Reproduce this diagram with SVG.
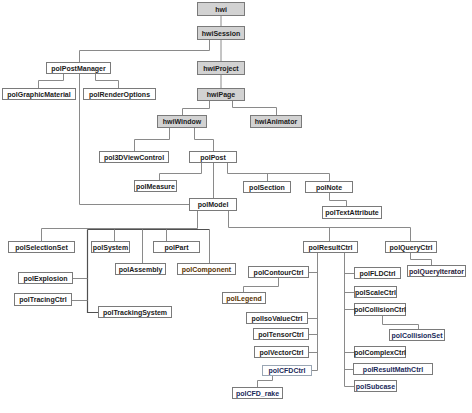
<svg xmlns="http://www.w3.org/2000/svg" width="472" height="413" viewBox="0 0 472 413">
<style>
.b{fill:#fff;stroke:#7a7a7a;stroke-width:1}
.g{fill:#d2d2d2;stroke:#7a7a7a;stroke-width:1}
text{font-family:"Liberation Sans",Arial,sans-serif;font-size:7px;font-weight:bold;fill:#1a1a1a;text-anchor:middle}
.c{fill:none;stroke:#8a8a8a;stroke-width:1}
.d{fill:none;stroke:#505050;stroke-width:1.2}
.br{fill:#5a3300}
.nv{fill:#1a2a5a}
</style>
<rect width="472" height="413" fill="#fff"/>
<g id="connectors">
<polyline class="c" points="221,15.5 221,26.5"/>
<polyline class="c" points="221,39.5 221,61.5"/>
<polyline class="c" points="209.5,39.5 209.5,50.5 79.5,50.5 79.5,62.5"/>
<polyline class="c" points="63.5,74 63.5,80.5 38.5,80.5 38.5,88"/>
<polyline class="c" points="95.5,74 95.5,80.5 118.5,80.5 118.5,88"/>
<polyline class="c" points="79.5,74 79.5,204.5 189,204.5"/>
<polyline class="c" points="221,74 221,88"/>
<polyline class="c" points="209.5,101 209.5,108.5 182.5,108.5 182.5,115"/>
<polyline class="c" points="232.5,101 232.5,107.5 276.5,107.5 276.5,115"/>
<polyline class="c" points="169.5,128 169.5,139.5 134.5,139.5 134.5,151"/>
<polyline class="c" points="194.5,128 194.5,139.5 213.5,139.5 213.5,151"/>
<polyline class="c" points="201.5,163 201.5,173.5 159.5,173.5 159.5,180"/>
<polyline class="c" points="213.5,163 213.5,198"/>
<polyline class="c" points="227.5,163 227.5,173.5 329.5,173.5 329.5,181"/>
<polyline class="c" points="267.5,173.5 267.5,181"/>
<polyline class="c" points="329.5,193 329.5,200.5 346.5,200.5 346.5,206"/>
<polyline class="c" points="197.5,211 197.5,228.5 41.5,228.5 41.5,241"/>
<polyline class="d" points="87.5,229.5 209.5,229.5"/>
<polyline class="d" points="87.5,229.5 87.5,312.5 98,312.5"/>
<polyline class="c" points="73,278.5 87.5,278.5"/>
<polyline class="c" points="72,300.5 87.5,300.5"/>
<polyline class="c" points="114.5,229.5 114.5,241"/>
<polyline class="c" points="142.5,229.5 142.5,263"/>
<polyline class="c" points="166.5,229.5 166.5,241"/>
<polyline class="c" points="209.5,229.5 209.5,263"/>
<polyline class="c" points="228.5,211 228.5,227.5 410.5,227.5 410.5,241"/>
<polyline class="c" points="329.5,227.5 329.5,241"/>
<polyline class="c" points="410.5,253 410.5,259.5 431.5,259.5 431.5,265"/>
<polyline class="c" points="317.5,253 317.5,370.5 312,370.5"/>
<polyline class="c" points="309,272.5 317.5,272.5"/>
<polyline class="c" points="308,318.5 317.5,318.5"/>
<polyline class="c" points="309,334.5 317.5,334.5"/>
<polyline class="c" points="309,352.5 317.5,352.5"/>
<polyline class="c" points="278.5,278 278.5,286.5 243.5,286.5 243.5,292"/>
<polyline class="c" points="272.5,376 272.5,380.5 257.5,380.5 257.5,387"/>
<polyline class="c" points="344.5,253 344.5,386.5 354,386.5"/>
<polyline class="c" points="344.5,273.5 354,273.5"/>
<polyline class="c" points="344.5,292.5 354,292.5"/>
<polyline class="c" points="344.5,309.5 354,309.5"/>
<polyline class="c" points="344.5,352.5 354,352.5"/>
<polyline class="c" points="344.5,369.5 353,369.5"/>
<polyline class="c" points="382.5,316 382.5,324.5 418.5,324.5 418.5,329"/>
</g>
<g id="hwi"><rect class="g" x="197.5" y="2.5" width="47" height="13"/><text x="221" y="11.5">hwi</text></g>
<g id="hwiSession"><rect class="g" x="197.5" y="26.5" width="47" height="13"/><text x="221" y="35.5">hwiSession</text></g>
<g id="hwiProject"><rect class="g" x="197.5" y="61.5" width="47" height="13"/><text x="221" y="70.5">hwiProject</text></g>
<g id="hwiPage"><rect class="g" x="197.5" y="88.5" width="47" height="12"/><text x="221" y="97">hwiPage</text></g>
<g id="hwiWindow"><rect class="g" x="157.5" y="115.5" width="49" height="12"/><text x="182" y="124">hwiWindow</text></g>
<g id="hwiAnimator"><rect class="g" x="250.5" y="115.5" width="51" height="12"/><text x="276" y="124">hwiAnimator</text></g>
<g id="polPostManager"><rect class="b" x="46.5" y="62.5" width="64" height="11"/><text x="78.5" y="70.5">polPostManager</text></g>
<g id="polGraphicMaterial"><rect class="b" x="2.5" y="88.5" width="73" height="11"/><text x="39" y="96.5">polGraphicMaterial</text></g>
<g id="polRenderOptions"><rect class="b" x="83.5" y="88.5" width="72" height="11"/><text x="119.5" y="96.5">polRenderOptions</text></g>
<g id="pol3DViewControl"><rect class="b" x="99.5" y="151.5" width="69" height="11"/><text x="134" y="159.5">pol3DViewControl</text></g>
<g id="polPost"><rect class="b" x="189.5" y="151.5" width="47" height="11"/><text x="213" y="159.5">polPost</text></g>
<g id="polMeasure"><rect class="b" x="134.5" y="180.5" width="42" height="11"/><text x="155.5" y="188.5">polMeasure</text></g>
<g id="polSection"><rect class="b" x="243.5" y="181.5" width="47" height="11"/><text x="267" y="189.5">polSection</text></g>
<g id="polNote"><rect class="b" x="305.5" y="181.5" width="47" height="11"/><text x="329" y="189.5">polNote</text></g>
<g id="polTextAttribute"><rect class="b" x="322.5" y="206.5" width="59" height="12"/><text x="352" y="215">polTextAttribute</text></g>
<g id="polModel"><rect class="b" x="189.5" y="198.5" width="47" height="12"/><text x="213" y="207">polModel</text></g>
<g id="polSelectionSet"><rect class="b" x="8.5" y="241.5" width="66" height="11"/><text x="41.5" y="249.5">polSelectionSet</text></g>
<g id="polSystem"><rect class="b" x="91.5" y="241.5" width="38" height="11"/><text x="110.5" y="249.5">polSystem</text></g>
<g id="polPart"><rect class="b" x="153.5" y="241.5" width="46" height="11"/><text x="176.5" y="249.5">polPart</text></g>
<g id="polAssembly"><rect class="b" x="115.5" y="263.5" width="50" height="11"/><text x="140.5" y="271.5">polAssembly</text></g>
<g id="polComponent"><rect class="b" x="177.5" y="263.5" width="58" height="11"/><text class="br" x="206.5" y="271.5">polComponent</text></g>
<g id="polExplosion"><rect class="b" x="18.5" y="272.5" width="54" height="11"/><text x="45.5" y="280.5">polExplosion</text></g>
<g id="polTracingCtrl"><rect class="b" x="14.5" y="293.5" width="57" height="12"/><text x="43" y="302">polTracingCtrl</text></g>
<g id="polTrackingSystem"><rect class="b" x="98.5" y="306.5" width="73" height="11"/><text x="135" y="314.5">polTrackingSystem</text></g>
<g id="polResultCtrl"><rect class="b" x="303.5" y="241.5" width="54" height="11"/><text x="330.5" y="249.5">polResultCtrl</text></g>
<g id="polQueryCtrl"><rect class="b" x="385.5" y="241.5" width="51" height="11"/><text x="411" y="249.5">polQueryCtrl</text></g>
<g id="polQueryIterator"><rect class="b" x="407.5" y="265.5" width="58" height="11"/><text fill="#2a1a3a" style="fill:#2a1a3a" x="436.5" y="273.5">polQueryIterator</text></g>
<g id="polContourCtrl"><rect class="b" x="248.5" y="266.5" width="60" height="11"/><text x="278.5" y="274.5">polContourCtrl</text></g>
<g id="polLegend"><rect class="b" x="222.5" y="292.5" width="43" height="11"/><text class="br" x="244" y="300.5">polLegend</text></g>
<g id="polIsoValueCtrl"><rect class="b" x="246.5" y="312.5" width="61" height="11"/><text x="277" y="320.5">polIsoValueCtrl</text></g>
<g id="polTensorCtrl"><rect class="b" x="253.5" y="328.5" width="55" height="11"/><text x="281" y="336.5">polTensorCtrl</text></g>
<g id="polVectorCtrl"><rect class="b" x="254.5" y="346.5" width="54" height="11"/><text x="281.5" y="354.5">polVectorCtrl</text></g>
<g id="polCFDCtrl"><rect class="b" x="262.5" y="365.5" width="49" height="10" style="stroke:#9aa6b4"/><text class="nv" x="287" y="373">polCFDCtrl</text></g>
<g id="polCFD_rake"><rect class="b" x="232.5" y="387.5" width="50" height="11"/><text class="nv" x="257.5" y="395.5">polCFD_rake</text></g>
<g id="polFLDCtrl"><rect class="b" x="354.5" y="267.5" width="46" height="11"/><text x="377.5" y="275.5">polFLDCtrl</text></g>
<g id="polScaleCtrl"><rect class="b" x="354.5" y="286.5" width="42" height="11"/><text x="375.5" y="294.5">polScaleCtrl</text></g>
<g id="polCollisionCtrl"><rect class="b" x="354.5" y="303.5" width="51" height="12"/><text x="380" y="312">polCollisionCtrl</text></g>
<g id="polCollisionSet"><rect class="b" x="389.5" y="329.5" width="55" height="11"/><text class="nv" x="417" y="337.5">polCollisionSet</text></g>
<g id="polComplexCtrl"><rect class="b" x="354.5" y="346.5" width="51" height="11"/><text x="380" y="354.5">polComplexCtrl</text></g>
<g id="polResultMathCtrl"><rect class="b" x="353.5" y="363.5" width="79" height="11"/><text class="nv" x="393" y="371.5">polResultMathCtrl</text></g>
<g id="polSubcase"><rect class="b" x="354.5" y="380.5" width="42" height="11"/><text class="nv" x="375.5" y="388.5">polSubcase</text></g>
</svg>
